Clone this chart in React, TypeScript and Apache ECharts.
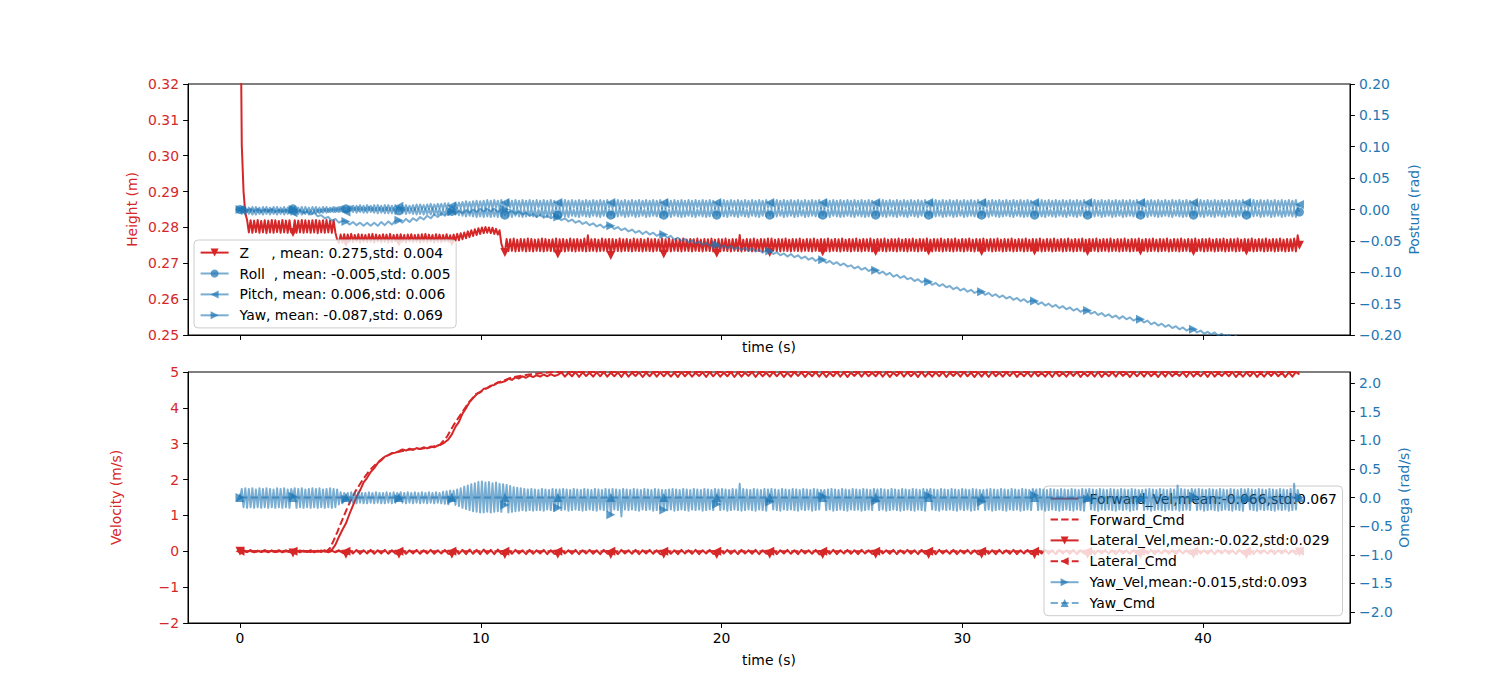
import React, { useEffect, useRef } from "react";
import * as echarts from "echarts";

// ---------------- data ----------------
// coarse series: sample step 2.2/15 s (index 0..300 -> t = 0..44 s), marker every 15 samples
// fine series:   sample step 2.2/30 s (index 0..600 -> t = 0..44 s), marker every 30 samples
const STEP = 2.2 / 15;
const STEP_FINE = 2.2 / 30;
const MARK_EVERY = 15;
const MARK_EVERY_FINE = 30;
const X_TICKS = [0, 10, 20, 30, 40];
const OMEGA_TICKS = [-2, -1.5, -1, -0.5, 0, 0.5, 1, 1.5, 2];

// Z height (fine), in 0.1 mm above 0.27 m
const zRaw = [
  900, 330, 200, 140, 121, 86, 120, 85, 119, 87, 121, 85, 118, 86, 120, 84, 119, 86, 121, 85, 120, 87, 118, 85, 121, 86, 119, 85, 120, 86,
  86, 120, 85, 119, 86, 121, 85, 120, 86, 119, 85, 120, 86, 121, 84, 119, 86, 120, 85, 121, 86, 119, 85, 120, 86, 66, 57, 80, 58, 81,
  58, 80, 60, 82, 59, 79, 61, 81, 58, 80, 60, 79, 59, 81, 60, 82, 58, 80, 61, 79, 59, 81, 60, 80, 58, 82, 59, 79, 61, 80,
  59, 81, 60, 79, 58, 80, 61, 81, 59, 79, 60, 80, 58, 81, 60, 82, 59, 80, 61, 79, 58, 81, 60, 80, 59, 79, 61, 81, 60, 78,
  60, 80, 62, 82, 64, 84, 67, 86, 70, 89, 73, 92, 76, 95, 79, 98, 82, 100, 84, 101, 85, 100, 84, 99, 82, 96, 80, 92, 55, 40,
  30, 68, 34, 67, 35, 69, 33, 66, 34, 68, 35, 67, 33, 69, 34, 68, 33, 66, 35, 67, 34, 69, 33, 68, 35, 66, 34, 67, 33, 69,
  26, 67, 34, 68, 33, 66, 35, 69, 34, 67, 33, 68, 35, 66, 34, 69, 33, 78, 34, 67, 35, 68, 33, 66, 34, 69, 35, 67, 33, 68,
  22, 68, 35, 66, 34, 69, 33, 67, 35, 68, 34, 66, 33, 69, 35, 67, 34, 68, 33, 66, 35, 69, 34, 67, 33, 68, 35, 66, 34, 69,
  26, 67, 34, 69, 33, 66, 35, 68, 34, 67, 33, 69, 35, 66, 34, 68, 33, 67, 35, 69, 34, 66, 33, 68, 35, 67, 34, 69, 33, 66,
  28, 68, 33, 67, 35, 69, 34, 66, 33, 68, 35, 67, 34, 79, 33, 66, 35, 68, 34, 67, 33, 69, 35, 66, 34, 68, 33, 67, 35, 69,
  30, 69, 35, 66, 34, 68, 33, 67, 35, 69, 34, 66, 33, 68, 35, 67, 34, 69, 33, 66, 35, 68, 34, 67, 33, 69, 35, 66, 34, 68,
  32, 67, 34, 69, 33, 66, 35, 68, 34, 67, 33, 69, 35, 66, 34, 68, 33, 67, 35, 69, 34, 66, 33, 68, 35, 67, 34, 69, 33, 66,
  33, 68, 35, 67, 34, 69, 33, 66, 35, 68, 34, 67, 33, 69, 35, 66, 34, 68, 33, 67, 35, 69, 34, 66, 33, 68, 35, 67, 34, 69,
  34, 66, 33, 68, 35, 67, 34, 69, 33, 66, 35, 68, 34, 67, 33, 69, 35, 66, 34, 68, 33, 67, 35, 69, 34, 66, 33, 68, 35, 67,
  33, 69, 34, 66, 35, 68, 33, 67, 34, 69, 35, 66, 33, 68, 34, 67, 35, 69, 33, 66, 34, 68, 35, 67, 33, 69, 34, 66, 35, 68,
  34, 67, 35, 69, 33, 66, 34, 68, 35, 67, 33, 69, 34, 66, 35, 68, 33, 67, 34, 69, 35, 66, 33, 68, 34, 67, 35, 69, 33, 66,
  33, 68, 34, 67, 35, 69, 33, 66, 34, 68, 35, 67, 33, 69, 34, 66, 35, 68, 33, 67, 34, 69, 35, 66, 33, 68, 34, 67, 35, 69,
  34, 66, 35, 68, 33, 67, 34, 69, 35, 66, 33, 68, 34, 67, 35, 69, 33, 66, 34, 68, 35, 67, 33, 69, 34, 66, 35, 68, 33, 67,
  33, 69, 34, 66, 35, 68, 33, 67, 34, 69, 35, 66, 33, 68, 34, 67, 35, 69, 33, 66, 34, 68, 35, 67, 33, 69, 34, 66, 35, 68,
  34, 67, 35, 69, 33, 66, 34, 68, 35, 67, 33, 69, 34, 66, 35, 68, 33, 67, 34, 69, 35, 66, 33, 68, 34, 67, 35, 69, 33, 78,
  50,
];

// Roll (fine), in mrad
const rollRaw = [
  0, 4, -3, 4, -4, 3, -4, 4, -3, 4, -4, 3, -4, 4, -3, 4, -4, 3, -4, 4, -3, 4, -4, 3, -3, 4, -4, 3, -4, 4,
  1, 4, -4, 3, -3, 4, -4, 4, -3, 3, -4, 4, -3, 4, -4, 3, -4, 4, -3, 4, -4, 3, -3, 4, -4, 3, -4, 4, -3, 4,
  1, 4, -3, 5, -4, 3, -5, 4, -4, 3, -5, 3, -5, 4, -4, 3, -5, 2, -6, 3, -5, 2, -6, 3, -6, 2, -6, 2, -7, 2,
  -2, 2, -6, 3, -7, 2, -6, 1, -7, 2, -8, 1, -7, 2, -8, 1, -7, 1, -8, 2, -8, 1, -8, 1, -9, 0, -8, 1, -9, 0,
  -3, 1, -8, 2, -9, 1, -10, 0, -11, 1, -10, 0, -11, 1, -12, 0, -11, 1, -12, 2, -11, 0, -12, 1, -11, 0, -12, 1, -11, 0,
  -9, 1, -11, 0, -12, 1, -10, 2, -11, 0, -12, 1, -11, 0, -10, 2, -11, 1, -12, 0, -10, 1, -11, 2, -12, 0, -11, 1, -10, 2,
  -9, 2, -10, 0, -11, 1, -12, 2, -10, 0, -11, 1, -12, 2, -10, 1, -11, 0, -12, 1, -10, 2, -11, 0, -12, 1, -10, 2, -11, 0,
  -9, 0, -12, 1, -11, 2, -10, 0, -12, 1, -11, 2, -10, 0, -12, 1, -11, 2, -10, 0, -12, 1, -11, 2, -10, 0, -11, 1, -12, 2,
  -9, 1, -11, 0, -12, 1, -10, 2, -11, 0, -12, 1, -11, 0, -10, 2, -11, 1, -12, 0, -10, 1, -11, 2, -12, 0, -11, 1, -10, 2,
  -9, 2, -10, 0, -11, 1, -12, 2, -10, 0, -11, 1, -12, 2, -10, 1, -11, 0, -12, 1, -10, 2, -11, 0, -12, 1, -10, 2, -11, 0,
  -9, 0, -12, 1, -11, 2, -10, 0, -12, 1, -11, 2, -10, 0, -12, 1, -11, 2, -10, 0, -12, 1, -11, 2, -10, 0, -11, 1, -12, 2,
  -9, 1, -11, 0, -12, 1, -10, 2, -11, 0, -12, 1, -11, 0, -10, 2, -11, 1, -12, 0, -10, 1, -11, 2, -12, 0, -11, 1, -10, 2,
  -9, 2, -10, 0, -11, 1, -12, 2, -10, 0, -11, 1, -12, 2, -10, 1, -11, 0, -12, 1, -10, 2, -11, 0, -12, 1, -10, 2, -11, 0,
  -9, 0, -12, 1, -11, 2, -10, 0, -12, 1, -11, 2, -10, 0, -12, 1, -11, 2, -10, 0, -12, 1, -11, 2, -10, 0, -11, 1, -12, 2,
  -9, 1, -11, 0, -12, 1, -10, 2, -11, 0, -12, 1, -11, 0, -10, 2, -11, 1, -12, 0, -10, 1, -11, 2, -12, 0, -11, 1, -10, 2,
  -9, 2, -10, 0, -11, 1, -12, 2, -10, 0, -11, 1, -12, 2, -10, 1, -11, 0, -12, 1, -10, 2, -11, 0, -12, 1, -10, 2, -11, 0,
  -9, 0, -12, 1, -11, 2, -10, 0, -12, 1, -11, 2, -10, 0, -12, 1, -11, 2, -10, 0, -12, 1, -11, 2, -10, 0, -11, 1, -12, 2,
  -9, 1, -11, 0, -12, 1, -10, 2, -11, 0, -12, 1, -11, 0, -10, 2, -11, 1, -12, 0, -10, 1, -11, 2, -12, 0, -11, 1, -10, 2,
  -9, 2, -10, 0, -11, 1, -12, 2, -10, 0, -11, 1, -12, 2, -10, 1, -11, 0, -12, 1, -10, 2, -11, 0, -12, 1, -10, 2, -11, 0,
  -9, 0, -12, 1, -11, 2, -10, 0, -12, 1, -11, 2, -10, 0, -12, 1, -11, 2, -10, 0, -12, 1, -11, 2, -10, 0, -11, 1, -12, 2,
  -4,
];

// Pitch (fine), in mrad
const pitchRaw = [
  0, -7, -1, -8, 0, -7, -1, -8, -2, -8, -1, -7, -2, -8, -1, -7, 0, -8, -1, -7, -2, -8, -1, -7, 0, -8, -1, -7, -2, -8,
  -5, -8, -2, -7, -1, -8, -2, -7, -1, -8, -2, -7, -1, -6, 0, -6, 0, -5, 1, -5, 1, -4, 2, -4, 3, -3, 4, -3, 5, -2,
  -4, -3, 5, -2, 6, -1, 6, -2, 7, -1, 6, -2, 7, -1, 6, -2, 7, -1, 7, -1, 6, -2, 7, -1, 7, -1, 6, -1, 7, 0,
  5, -1, 6, -2, 7, -1, 6, 0, 7, -1, 8, 0, 8, 1, 7, 0, 8, 1, 9, 0, 8, 1, 9, 2, 9, 1, 10, 2, 10, 2,
  6, 2, 10, 3, 11, 3, 12, 2, 13, 3, 12, 2, 13, 3, 14, 2, 13, 3, 14, 2, 15, 3, 14, 2, 15, 3, 14, 2, 15, 3,
  11, 2, 15, 3, 14, 2, 15, 3, 14, 2, 15, 3, 14, 2, 15, 3, 14, 2, 15, 3, 14, 2, 15, 3, 14, 2, 15, 3, 14, 2,
  11, 3, 14, 2, 15, 3, 14, 2, 15, 3, 14, 2, 15, 3, 14, 2, 15, 3, 14, 2, 15, 3, 14, 2, 15, 3, 14, 2, 15, 3,
  11, 2, 14, 3, 15, 2, 14, 3, 15, 2, 14, 3, 15, 2, 14, 3, 15, 2, 14, 3, 15, 2, 14, 3, 15, 2, 14, 3, 15, 2,
  11, 2, 15, 3, 14, 2, 15, 3, 14, 2, 15, 3, 14, 2, 15, 3, 14, 2, 15, 3, 14, 2, 15, 3, 14, 2, 15, 3, 14, 2,
  11, 3, 14, 2, 15, 3, 14, 2, 15, 3, 14, 2, 15, 3, 14, 2, 15, 3, 14, 2, 15, 3, 14, 2, 15, 3, 14, 2, 15, 3,
  11, 2, 14, 3, 15, 2, 14, 3, 15, 2, 14, 3, 15, 2, 14, 3, 15, 2, 14, 3, 15, 2, 14, 3, 15, 2, 14, 3, 15, 2,
  11, 2, 15, 3, 14, 2, 15, 3, 14, 2, 15, 3, 14, 2, 15, 3, 14, 2, 15, 3, 14, 2, 15, 3, 14, 2, 15, 3, 14, 2,
  11, 3, 14, 2, 15, 3, 14, 2, 15, 3, 14, 2, 15, 3, 14, 2, 15, 3, 14, 2, 15, 3, 14, 2, 15, 3, 14, 2, 15, 3,
  11, 2, 14, 3, 15, 2, 14, 3, 15, 2, 14, 3, 15, 2, 14, 3, 15, 2, 14, 3, 15, 2, 14, 3, 15, 2, 14, 3, 15, 2,
  11, 2, 15, 3, 14, 2, 15, 3, 14, 2, 15, 3, 14, 2, 15, 3, 14, 2, 15, 3, 14, 2, 15, 3, 14, 2, 15, 3, 14, 2,
  11, 3, 14, 2, 15, 3, 14, 2, 15, 3, 14, 2, 15, 3, 14, 2, 15, 3, 14, 2, 15, 3, 14, 2, 15, 3, 14, 2, 15, 3,
  11, 2, 14, 3, 15, 2, 14, 3, 15, 2, 14, 3, 15, 2, 14, 3, 15, 2, 14, 3, 15, 2, 14, 3, 15, 2, 14, 3, 15, 2,
  11, 2, 15, 3, 14, 2, 15, 3, 14, 2, 15, 3, 14, 2, 15, 3, 14, 2, 15, 3, 14, 2, 15, 3, 14, 2, 15, 3, 14, 2,
  11, 3, 14, 2, 15, 3, 14, 2, 15, 3, 14, 2, 15, 3, 14, 2, 15, 3, 14, 2, 15, 3, 14, 2, 15, 3, 14, 2, 15, 3,
  11, 2, 14, 3, 15, 2, 14, 3, 15, 2, 14, 3, 15, 2, 14, 3, 15, 2, 14, 3, 15, 2, 14, 3, 15, 2, 14, 3, 15, 2,
  8,
];

// Yaw (coarse), in mrad
const yawRaw = [
  0, 2, -2, 1, -3, 1, -3, 0, -3, 1, -4, 0, -4, 0, -4,
  0, -4, -1, -6, -3, -8, -5, -11, -9, -14, -12, -18, -15, -21, -18,
  -19, -24, -20, -25, -21, -26, -21, -26, -21, -26, -20, -25, -19, -24, -18,
  -17, -21, -15, -20, -14, -18, -12, -16, -10, -14, -8, -12, -6, -10, -4,
  -3, -7, -2, -6, -1, -5, 0, -4, 1, -3, 1, -3, 1, -4, 0,
  0, -5, -2, -7, -3, -8, -5, -10, -7, -12, -8, -13, -10, -14, -11,
  -12, -17, -14, -19, -16, -21, -18, -23, -20, -25, -22, -27, -24, -29, -25,
  -26, -31, -28, -33, -30, -35, -32, -37, -34, -39, -35, -40, -37, -42, -39,
  -40, -45, -42, -48, -45, -50, -47, -52, -49, -54, -51, -56, -53, -58, -55,
  -56, -61, -57, -62, -58, -63, -60, -65, -61, -66, -62, -67, -64, -69, -65,
  -66, -71, -68, -73, -70, -75, -71, -76, -73, -78, -75, -80, -77, -82, -78,
  -80, -85, -82, -87, -84, -89, -86, -91, -89, -94, -91, -96, -93, -98, -95,
  -97, -102, -99, -104, -101, -107, -104, -109, -106, -111, -109, -114, -111, -116, -113,
  -115, -120, -117, -122, -119, -124, -122, -127, -124, -129, -126, -131, -128, -133, -130,
  -131, -136, -133, -138, -135, -140, -137, -142, -139, -144, -141, -146, -143, -148, -145,
  -146, -151, -148, -153, -150, -155, -152, -157, -154, -159, -156, -161, -158, -163, -160,
  -161, -166, -163, -168, -165, -170, -167, -172, -169, -174, -170, -175, -172, -177, -174,
  -175, -180, -177, -183, -180, -185, -182, -187, -184, -189, -186, -191, -188, -193, -190,
  -191, -196, -193, -198, -195, -199, -196, -201, -198, -203, -200, -205, -201, -206, -203,
  -204, -209, -206, -211, -207, -212, -209, -214, -210, -215, -212, -217, -213, -218, -215,
  -220,
];

// Forward velocity (coarse), in cm/s
const fwdVelRaw = [
  0, 2, -1, 2, -2, 1, -1, 2, -1, 2, -2, 1, -1, 2, -1,
  1, -1, 2, -1, 1, -2, 1, -1, 2, -1, 1, 4, 18, 40, 60,
  78, 104, 128, 152, 170, 192, 205, 221, 232, 246, 254, 264, 268, 274, 275,
  279, 284, 281, 286, 283, 288, 285, 290, 287, 292, 290, 295, 298, 304, 312,
  326, 347, 361, 384, 399, 416, 427, 438, 443, 453, 455, 462, 464, 471, 471,
  474, 481, 478, 485, 482, 488, 484, 490, 486, 491, 487, 493, 488, 494, 489,
  492, 499, 487, 498, 488, 500, 486, 499, 489, 498, 487, 499, 488, 500, 487,
  498, 488, 499, 486, 500, 487, 498, 489, 499, 486, 498, 488, 500, 487, 499,
  488, 499, 487, 498, 486, 500, 488, 499, 487, 498, 489, 499, 486, 500, 488,
  499, 487, 498, 488, 500, 486, 499, 487, 498, 489, 500, 486, 499, 488, 498,
  487, 500, 488, 499, 486, 498, 487, 500, 489, 499, 486, 498, 488, 500, 487,
  499, 486, 498, 488, 500, 487, 499, 486, 498, 489, 500, 487, 499, 488, 498,
  488, 500, 487, 499, 486, 498, 489, 500, 487, 499, 488, 498, 486, 500, 487,
  498, 487, 499, 488, 500, 486, 498, 489, 499, 487, 500, 488, 498, 486, 499,
  487, 499, 486, 500, 488, 498, 487, 499, 489, 500, 486, 498, 488, 499, 487,
  500, 488, 498, 487, 499, 486, 500, 488, 498, 487, 499, 489, 500, 486, 498,
  488, 499, 487, 500, 486, 498, 488, 499, 487, 500, 489, 498, 486, 499, 488,
  499, 487, 500, 488, 498, 486, 499, 487, 500, 488, 498, 489, 499, 486, 500,
  487, 498, 488, 499, 486, 500, 487, 498, 489, 499, 488, 500, 486, 498, 487,
  499, 488, 500, 486, 498, 487, 499, 489, 500, 488, 498, 486, 499, 487, 500,
  493,
];

// Lateral velocity (coarse), in cm/s
const latVelRaw = [
  0, 2, -2, 3, -3, 2, -2, 3, -3, 2, -2, 3, -3, 2, -2,
  -5, 3, -3, 2, -2, 3, -3, 2, -2, 3, -3, 2, -3, 3, -4,
  -8, 3, -6, 4, -7, 3, -6, 4, -7, 3, -6, 4, -7, 3, -6,
  -8, 4, -7, 3, -6, 4, -7, 3, -6, 4, -7, 3, -6, 4, -7,
  -8, 5, -7, 4, -8, 5, -7, 4, -8, 5, -7, 4, -8, 5, -7,
  -9, 3, -7, 4, -6, 3, -8, 4, -7, 3, -6, 4, -8, 3, -7,
  -8, 4, -6, 3, -7, 4, -8, 3, -6, 4, -7, 3, -8, 4, -6,
  -9, 3, -8, 4, -6, 3, -7, 4, -8, 3, -6, 4, -7, 3, -8,
  -8, 4, -7, 3, -8, 4, -6, 3, -7, 4, -8, 3, -6, 4, -7,
  -9, 3, -6, 4, -7, 3, -8, 4, -6, 3, -7, 4, -8, 3, -6,
  -8, 4, -8, 3, -6, 4, -7, 3, -8, 4, -6, 3, -7, 4, -8,
  -9, 3, -7, 4, -8, 3, -6, 4, -7, 3, -8, 4, -6, 3, -7,
  -8, 4, -6, 3, -7, 4, -8, 3, -6, 4, -7, 3, -8, 4, -6,
  -9, 3, -8, 4, -6, 3, -7, 4, -8, 3, -6, 4, -7, 3, -8,
  -8, 4, -7, 3, -8, 4, -6, 3, -7, 4, -8, 3, -6, 4, -7,
  -9, 3, -6, 4, -7, 3, -8, 4, -6, 3, -7, 4, -8, 3, -6,
  -8, 4, -8, 3, -6, 4, -7, 3, -8, 4, -6, 3, -7, 4, -8,
  -9, 3, -7, 4, -8, 3, -6, 4, -7, 3, -8, 4, -6, 3, -7,
  -8, 4, -6, 3, -7, 4, -8, 3, -6, 4, -7, 3, -8, 4, -6,
  -9, 3, -8, 4, -6, 3, -7, 4, -8, 3, -6, 4, -7, 3, -8,
  -2,
];

// Yaw rate (fine), in 0.01 rad/s
const yawVelRaw = [
  0, 15, -17, 16, -18, 15, -17, 16, -18, 14, -17, 16, -18, 15, -17, 16, -18, 15, -17, 14, -18, 16, -17, 15, -18, 16, -17, 14, -18, 15,
  2, 16, -18, 15, -17, 16, -18, 14, -17, 15, -18, 16, -17, 15, -18, 16, -17, 14, -18, 15, -17, 16, -18, 15, -17, 14, -12, 9, -10, 8,
  -3, 8, -10, 9, -9, 8, -10, 9, -9, 8, -10, 8, -10, 9, -9, 8, -10, 9, -9, 8, -10, 8, -10, 9, -9, 8, -10, 9, -9, 8,
  -2, 9, -9, 8, -10, 9, -9, 8, -10, 9, -9, 8, -10, 9, -9, 8, -10, 9, -9, 8, -10, 9, -9, 8, -10, 10, -11, 11, -12, 12,
  -4, 12, -13, 14, -15, 16, -18, 19, -20, 21, -22, 23, -24, 25, -25, 27, -26, 28, -26, 26, -25, 27, -26, 25, -25, 26, -24, 24, -25, 23,
  -13, 22, -26, 20, -25, 18, -24, 17, -23, 16, -22, 15, -23, 14, -22, 15, -23, 14, -22, 13, -22, 15, -23, 14, -21, 13, -22, 15, -23, 14,
  -18, 14, -22, 15, -21, 14, -23, 13, -22, 15, -21, 14, -22, 13, -23, 15, -22, 14, -21, 13, -22, 15, -23, 14, -21, 13, -22, 15, -23, 14,
  -30, 15, -21, 14, -22, 13, -33, 15, -21, 14, -22, 13, -21, 15, -22, 14, -23, 13, -21, 15, -22, 14, -21, 13, -23, 15, -22, 14, -21, 13,
  -22, 13, -22, 14, -21, 15, -23, 14, -22, 13, -21, 15, -22, 14, -23, 13, -21, 15, -22, 14, -21, 13, -23, 15, -22, 14, -21, 13, -22, 15,
  -12, 14, -22, 15, -21, 14, -23, 13, -22, 15, -21, 14, -22, 24, -23, 15, -22, 14, -21, 13, -22, 15, -23, 14, -21, 13, -22, 15, -23, 14,
  -8, 15, -21, 14, -22, 13, -23, 15, -21, 14, -22, 13, -21, 15, -22, 14, -23, 13, -21, 15, -22, 14, -21, 13, -23, 15, -22, 14, -21, 13,
  2, 13, -22, 14, -21, 15, -23, 14, -22, 13, -21, 15, -22, 14, -23, 13, -21, 15, -22, 14, -21, 13, -23, 15, -22, 14, -21, 13, -22, 15,
  -6, 14, -22, 15, -21, 14, -23, 13, -22, 15, -21, 14, -22, 13, -23, 15, -22, 14, -21, 13, -22, 15, -23, 14, -21, 13, -22, 15, -23, 14,
  3, 15, -21, 14, -22, 13, -23, 15, -21, 14, -22, 13, -21, 15, -22, 14, -23, 13, -21, 15, -22, 14, -21, 13, -23, 15, -22, 14, -21, 13,
  -8, 13, -22, 14, -21, 15, -23, 14, -22, 13, -21, 15, -22, 14, -23, 13, -21, 15, -22, 14, -21, 13, -23, 15, -22, 14, -21, 13, -22, 15,
  4, 14, -22, 15, -21, 14, -23, 13, -22, 15, -21, 14, -22, 13, -23, 15, -22, 14, -21, 13, -22, 15, -23, 14, -21, 13, -22, 15, -23, 14,
  -3, 15, -21, 14, -22, 13, -23, 15, -21, 14, -22, 13, -21, 15, -22, 14, -23, 13, -21, 15, -22, 14, -21, 13, -23, 15, -22, 14, -21, 13,
  -5, 13, -22, 14, -21, 15, -23, 14, -22, 13, -21, 15, -22, 14, -23, 13, -21, 15, -22, 14, -21, 21, -23, 15, -22, 14, -21, 13, -22, 15,
  2, 14, -22, 15, -21, 14, -23, 13, -22, 15, -21, 14, -22, 13, -23, 15, -22, 14, -21, 13, -22, 15, -23, 14, -21, 13, -22, 15, -23, 14,
  -4, 15, -21, 14, -22, 13, -23, 15, -21, 14, -22, 13, -21, 15, -22, 14, -23, 13, -21, 15, -22, 14, -21, 13, -23, 15, -22, 24, -21, 13,
  0,
];

// Commands
const fwdCmdT = [0, 3.6, 3.75, 3.9, 4.05, 4.2, 4.5, 4.8, 5.1, 5.4, 5.7, 6.0, 6.4, 7.0, 7.8, 8.3, 8.6, 8.9, 9.2, 9.5, 9.8, 10.2, 10.7, 11.3, 12.0, 13.0, 44];
const fwdCmdV = [0, 0, 0.1, 0.32, 0.55, 0.8, 1.28, 1.68, 2.0, 2.27, 2.47, 2.63, 2.75, 2.83, 2.88, 2.97, 3.2, 3.55, 3.85, 4.15, 4.38, 4.53, 4.7, 4.85, 4.93, 5.0, 5.0];
const cmdMarkT = [0, 2.2, 4.4, 6.6, 8.8, 11, 13.2, 15.4, 17.6, 19.8, 22, 24.2, 26.4, 28.6, 30.8, 33, 35.2, 37.4, 39.6, 41.8, 44];
const latCmdV = [0, 0, 0, 0, 0, 0, 0, 0, 0, 0, 0, 0, 0, 0, 0, 0, 0, 0, 0, 0, 0];
const yawCmdV = [0, 0, 0, 0, 0, 0, 0, 0, 0, 0, 0, 0, 0, 0, 0, 0, 0, 0, 0, 0, 0];

const NAMES = {
  z: "Z     , mean: 0.275,std: 0.004",
  roll: "Roll  , mean: -0.005,std: 0.005",
  pitch: "Pitch, mean: 0.006,std: 0.006",
  yaw: "Yaw, mean: -0.087,std: 0.069",
  fv: "Forward_Vel,mean:-0.066,std:0.067",
  fc: "Forward_Cmd",
  lv: "Lateral_Vel,mean:-0.022,std:0.029",
  lc: "Lateral_Cmd",
  yv: "Yaw_Vel,mean:-0.015,std:0.093",
  yc: "Yaw_Cmd",
};

// ---------------- styling ----------------
const RED = "#d62728";
const BLUE = "#1f77b4";
const BLUE_LINE = "rgba(31,119,180,0.6)";
const BLUE_MARK = "rgba(31,119,180,0.72)";
const FONT = "DejaVu Sans";
const FS = 13.9;
const DASH = [7.4, 3.2];
const TRI_DOWN = "path://M0,0L10,0L5,10Z";
const TRI_LEFT = "path://M10,0L10,10L0,5Z";
const TRI_RIGHT = "path://M0,0L0,10L10,5Z";

function sampled(raw: number[], step: number, every: number, scale: number, offset: number, marked: boolean) {
  return raw.map((v, i) => {
    const item: any = { value: [i * step, offset + v * scale] };
    if (marked && i % every !== 0) item.symbol = "none";
    return item;
  });
}

function pairs(ts: number[], vs: number[]) {
  return ts.map((t, i) => [t, vs[i]]);
}

function fmt(v: number, d: number) {
  if (Math.abs(v) < 1e-9) v = 0;
  return v.toFixed(d).replace("-", "\u2212");
}

const tick = { show: true, inside: false, length: 4.9, lineStyle: { color: "#000", width: 1 } };
const axisLine = { show: true, onZero: false, lineStyle: { color: "#000", width: 1 } };

function lineSeries(name: string, x: number, y: number, data: any[], color: string, markColor: string, symbol: string, dashed: boolean, z: number) {
  return {
    type: "line",
    name,
    xAxisIndex: x,
    yAxisIndex: y,
    data,
    z,
    symbol,
    symbolSize: 9,
    showSymbol: symbol !== "none",
    showAllSymbol: true,
    lineStyle: { color, width: 2, type: dashed ? DASH : "solid", join: "round" },
    itemStyle: { color: markColor, borderWidth: 0 },
    emphasis: { disabled: true },
    silent: true,
    clip: true,
  };
}

function yAxisDef(grid: number, pos: string, color: string, name: string, gap: number, extra: any) {
  return {
    type: "value",
    gridIndex: grid,
    position: pos,
    axisLine,
    splitLine: { show: false },
    name,
    nameLocation: "middle",
    nameGap: gap,
    nameMoveOverlap: false,
    nameTextStyle: { color, fontSize: FS, fontFamily: FONT },
    ...extra,
  };
}

function buildOption() {
  const xCommon = (grid: number, labels: boolean, gap: number) => ({
    type: "value",
    gridIndex: grid,
    min: -2.16,
    max: 46.1,
    axisLine,
    axisTick: { ...tick, customValues: X_TICKS },
    axisLabel: {
      show: labels,
      customValues: X_TICKS,
      color: "#000",
      fontSize: FS,
      fontFamily: FONT,
      margin: 8,
      formatter: (v: number) => String(v),
    },
    splitLine: { show: false },
    name: "time (s)",
    nameLocation: "middle",
    nameGap: gap,
    nameMoveOverlap: false,
    nameTextStyle: { color: "#000", fontSize: FS, fontFamily: FONT },
  });

  const legendCommon = {
    orient: "vertical",
    padding: [5.6, 5.6, 5.6, 5.6],
    itemWidth: 28,
    itemHeight: 10,
    itemGap: 6.9,
    selectedMode: false,
    backgroundColor: "rgba(255,255,255,0.8)",
    borderColor: "#cccccc",
    borderWidth: 1,
    borderRadius: 4,
    textStyle: { color: "#000", fontSize: FS, fontFamily: FONT, padding: [0, 0, 0, 6] },
  };

  const gridCommon = { left: 188, right: 150, height: 251, show: true, borderColor: "#000", borderWidth: 1, backgroundColor: "transparent", outerBoundsMode: "none", containLabel: false };

  return {
    animation: false,
    backgroundColor: "#fff",
    textStyle: { fontFamily: FONT },
    grid: [
      { ...gridCommon, top: 84 },
      { ...gridCommon, top: 372 },
    ],
    xAxis: [xCommon(0, false, 5), xCommon(1, true, 30)],
    yAxis: [
      yAxisDef(0, "left", RED, "Height (m)", 49, {
        min: 0.25, max: 0.32, interval: 0.01, axisTick: tick,
        axisLabel: { color: RED, fontSize: FS, fontFamily: FONT, margin: 9, formatter: (v: number) => fmt(v, 2) },
      }),
      yAxisDef(0, "right", BLUE, "Posture (rad)", 57, {
        min: -0.2, max: 0.2, interval: 0.05, axisTick: tick,
        axisLabel: { color: BLUE, fontSize: FS, fontFamily: FONT, margin: 9, formatter: (v: number) => fmt(v, 2) },
      }),
      yAxisDef(1, "left", RED, "Velocity (m/s)", 65, {
        min: -2, max: 5, interval: 1, axisTick: tick,
        axisLabel: { color: RED, fontSize: FS, fontFamily: FONT, margin: 9, formatter: (v: number) => fmt(v, 0) },
      }),
      yAxisDef(1, "right", BLUE, "Omega (rad/s)", 47, {
        min: -2.192, max: 2.192,
        axisTick: { ...tick, customValues: OMEGA_TICKS },
        axisLabel: { customValues: OMEGA_TICKS, color: BLUE, fontSize: FS, fontFamily: FONT, margin: 9, formatter: (v: number) => fmt(v, 1) },
      }),
    ],
    legend: [
      {
        ...legendCommon,
        left: 194,
        top: 240,
        data: [{ name: NAMES.z }, { name: NAMES.roll }, { name: NAMES.pitch }, { name: NAMES.yaw }],
      },
      {
        ...legendCommon,
        left: 1044,
        top: 486,
        data: [
          { name: NAMES.fv, itemStyle: { opacity: 0 } },
          { name: NAMES.fc, itemStyle: { opacity: 0 } },
          { name: NAMES.lv },
          { name: NAMES.lc },
          { name: NAMES.yv },
          { name: NAMES.yc },
        ],
      },
    ],
    series: [
      lineSeries(NAMES.z, 0, 0, sampled(zRaw, STEP_FINE, MARK_EVERY_FINE, 0.0001, 0.27, true), RED, RED, TRI_DOWN, false, 2),
      lineSeries(NAMES.roll, 0, 1, sampled(rollRaw, STEP_FINE, MARK_EVERY_FINE, 0.001, 0, true), BLUE_LINE, BLUE_MARK, "circle", false, 3),
      lineSeries(NAMES.pitch, 0, 1, sampled(pitchRaw, STEP_FINE, MARK_EVERY_FINE, 0.001, 0, true), BLUE_LINE, BLUE_MARK, TRI_LEFT, false, 3),
      lineSeries(NAMES.yaw, 0, 1, sampled(yawRaw, STEP, MARK_EVERY, 0.001, 0, true), BLUE_LINE, BLUE_MARK, TRI_RIGHT, false, 3),
      lineSeries(NAMES.fv, 1, 2, sampled(fwdVelRaw, STEP, MARK_EVERY, 0.01, 0, false), RED, RED, "none", false, 2),
      lineSeries(NAMES.fc, 1, 2, pairs(fwdCmdT, fwdCmdV), RED, RED, "none", true, 2),
      lineSeries(NAMES.lv, 1, 2, sampled(latVelRaw, STEP, MARK_EVERY, 0.01, 0, true), RED, RED, TRI_DOWN, false, 2),
      lineSeries(NAMES.lc, 1, 2, pairs(cmdMarkT, latCmdV), RED, RED, TRI_LEFT, true, 2),
      lineSeries(NAMES.yv, 1, 3, sampled(yawVelRaw, STEP_FINE, MARK_EVERY_FINE, 0.01, 0, true), BLUE_LINE, BLUE_MARK, TRI_RIGHT, false, 6),
      lineSeries(NAMES.yc, 1, 3, pairs(cmdMarkT, yawCmdV), BLUE_LINE, BLUE_MARK, "triangle", true, 6),
    ],
  };
}

export default function App() {
  const ref = useRef<HTMLDivElement>(null);
  useEffect(() => {
    if (!ref.current) return;
    const chart = echarts.init(ref.current, undefined, { renderer: "svg" });
    chart.setOption(buildOption() as any);
    return () => chart.dispose();
  }, []);
  return (
    <div
      ref={ref}
      style={{ position: "absolute", left: 0, top: 0, width: 1500, height: 700, background: "#fff" }}
    />
  );
}
